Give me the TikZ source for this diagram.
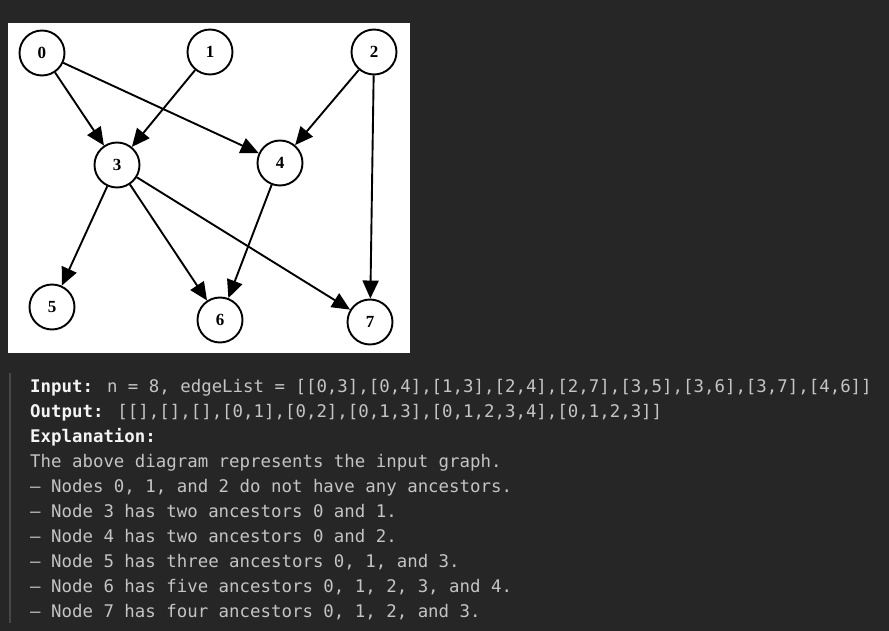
\documentclass[tikz,border=0pt]{standalone}
\usepackage{fontspec}
\usetikzlibrary{arrows.meta}
\newfontfamily\codefont{DejaVu Sans Mono}
\newfontfamily\graphfont{Liberation Serif}
\definecolor{bgdark}{HTML}{262626}
\definecolor{codegrey}{HTML}{C4C4C4}
\definecolor{codewhite}{HTML}{F4F4F4}
\definecolor{barline}{HTML}{474747}
\begin{document}
\begin{tikzpicture}[x=1pt,y=-1pt,
		vertex/.style={circle,draw=black,line width=1.9pt,minimum size=45pt,inner sep=0pt,
			font=\graphfont\bfseries\fontsize{17}{17}\selectfont},
		edge/.style={line width=1.9pt,-{Triangle[length=18pt,width=16pt]}},
		codeline/.style={anchor=base west,inner sep=0pt,text=codegrey,
			font=\codefont\fontsize{17.4}{25}\selectfont}]
				\newcommand{\mybold}[1]{%
					{\bfseries\color{codewhite}#1}%
				}%Page and panel
				\useasboundingbox (0,0) rectangle (889,631);
				\fill [bgdark] (0,0) rectangle (889,631);
				\fill [white] (8,23) rectangle (410,353);
				%Vertices of the graph
				\node [vertex] (v0) at (42,53) {0};
				\node [vertex] (v1) at (210,52) {1};
				\node [vertex] (v2) at (374,52) {2};
				\node [vertex] (v3) at (117,165) {3};
				\node [vertex] (v4) at (280,163) {4};
				\node [vertex] (v5) at (52,307) {5};
				\node [vertex] (v6) at (220,320) {6};
				\node [vertex] (v7) at (370,322) {7};
				%Edges of the graph
				\draw [edge] (v0) -- (v3);
				\draw [edge] (v0) -- (v4);
				\draw [edge] (v1) -- (v3);
				\draw [edge] (v2) -- (v4);
				\draw [edge] (v2) -- (v7);
				\draw [edge] (v3) -- (v5);
				\draw [edge] (v3) -- (v6);
				\draw [edge] (v3) -- (v7);
				\draw [edge] (v4) -- (v6);
				%Quote bar on the left
				\fill [barline] (9,373) rectangle (11,623);
				%The text lines
				\node [codeline] (input) at (30,392) {\mybold{Input:} n = 8, edgeList = [[0,3],[0,4],[1,3],[2,4],[2,7],[3,5],[3,6],[3,7],[4,6]]};
				\node [codeline] (output) at (30,417) {\mybold{Output:} [[],[],[],[0,1],[0,2],[0,1,3],[0,1,2,3,4],[0,1,2,3]]};
				\node [codeline] (expl) at (30,442) {\mybold{Explanation:}};
				\node [codeline] (line0) at (30,467) {The above diagram represents the input graph.};
				\node [codeline] (line1) at (30,492) {– Nodes 0, 1, and 2 do not have any ancestors.};
				\node [codeline] (line2) at (30,517) {– Node 3 has two ancestors 0 and 1.};
				\node [codeline] (line3) at (30,542) {– Node 4 has two ancestors 0 and 2.};
				\node [codeline] (line4) at (30,567) {– Node 5 has three ancestors 0, 1, and 3.};
				\node [codeline] (line5) at (30,592) {– Node 6 has five ancestors 0, 1, 2, 3, and 4.};
				\node [codeline] (line6) at (30,617) {– Node 7 has four ancestors 0, 1, 2, and 3.};
\end{tikzpicture}
\end{document}
